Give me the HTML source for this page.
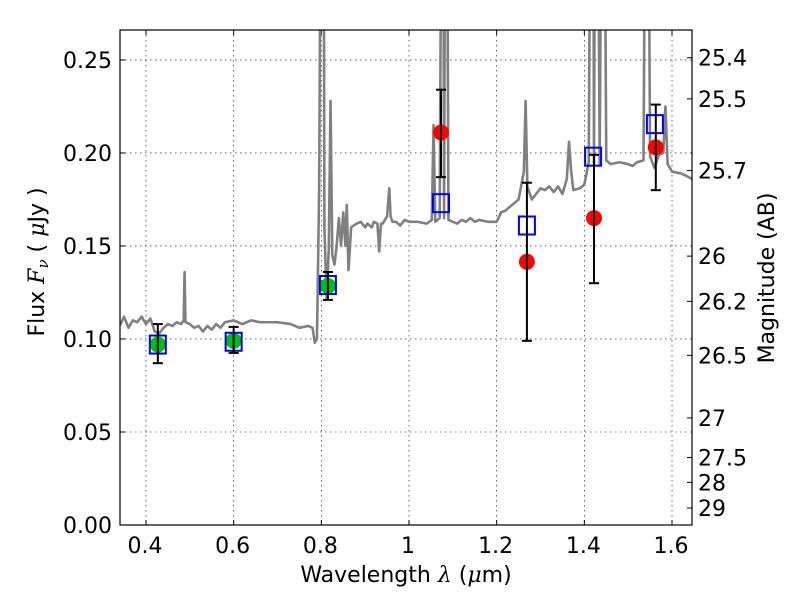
<!DOCTYPE html>
<html><head><meta charset="utf-8"><style>
body{margin:0;background:#fff}
svg text{font-family:"DejaVu Sans","Liberation Sans",sans-serif;fill:#000}
</style></head><body>
<svg id="chart" width="800" height="600" xmlns="http://www.w3.org/2000/svg"></svg>
<script>
const specWave=[0.341,0.35,0.36,0.37,0.38,0.39,0.40,0.41,0.42,0.43,0.44,0.45,0.46,0.47,0.48,0.486,0.488,0.490,0.50,0.51,0.52,0.53,0.54,0.55,0.56,0.57,0.58,0.60,0.62,0.64,0.66,0.70,0.73,0.75,0.77,0.78,0.785,0.79,0.795,0.80,0.805,0.807,0.812,0.817,0.821,0.825,0.83,0.835,0.840,0.845,0.850,0.855,0.858,0.862,0.868,0.88,0.89,0.90,0.905,0.91,0.915,0.92,0.928,0.932,0.936,0.94,0.95,0.955,0.958,0.962,0.97,0.98,0.99,1.0,1.02,1.04,1.052,1.056,1.06,1.07,1.075,1.078,1.08,1.083,1.086,1.09,1.10,1.11,1.12,1.13,1.14,1.15,1.16,1.18,1.2,1.21,1.22,1.23,1.24,1.25,1.262,1.266,1.27,1.28,1.29,1.30,1.31,1.32,1.33,1.34,1.35,1.36,1.365,1.37,1.375,1.39,1.40,1.41,1.415,1.42,1.422,1.425,1.43,1.435,1.44,1.445,1.45,1.46,1.48,1.50,1.51,1.52,1.535,1.54,1.545,1.55,1.56,1.57,1.58,1.585,1.59,1.60,1.62,1.63,1.646];
const specFlux=[0.1075,0.112,0.106,0.110,0.109,0.112,0.108,0.111,0.104,0.103,0.106,0.108,0.107,0.109,0.108,0.110,0.136,0.109,0.108,0.106,0.107,0.104,0.107,0.105,0.108,0.106,0.109,0.110,0.108,0.110,0.109,0.109,0.108,0.106,0.107,0.106,0.098,0.100,0.180,0.4,0.4,0.160,0.122,0.148,0.228,0.145,0.140,0.150,0.165,0.150,0.168,0.150,0.172,0.137,0.160,0.162,0.163,0.160,0.162,0.161,0.160,0.163,0.162,0.147,0.162,0.162,0.166,0.181,0.166,0.163,0.163,0.161,0.164,0.163,0.163,0.162,0.164,0.215,0.163,0.165,0.4,0.4,0.165,0.4,0.4,0.164,0.163,0.162,0.164,0.163,0.165,0.163,0.164,0.163,0.163,0.168,0.169,0.171,0.173,0.175,0.190,0.228,0.182,0.175,0.178,0.181,0.180,0.182,0.179,0.182,0.178,0.186,0.206,0.190,0.180,0.181,0.183,0.195,0.4,0.4,0.194,0.4,0.4,0.194,0.4,0.4,0.196,0.194,0.195,0.194,0.193,0.195,0.196,0.4,0.4,0.198,0.192,0.199,0.200,0.225,0.194,0.190,0.189,0.188,0.186];
const greenWave=[0.427,0.600,0.815], greenFlux=[0.097,0.099,0.1285], greenHi=[0.108,0.1065,0.136], greenLo=[0.087,0.0925,0.121];
const redWave=[1.073,1.269,1.422,1.563], redFlux=[0.211,0.1415,0.165,0.203], redHi=[0.234,0.184,0.199,0.226], redLo=[0.187,0.099,0.130,0.180];
const boxWave=[0.427,0.600,0.815,1.073,1.269,1.420,1.561], boxFlux=[0.097,0.0985,0.129,0.173,0.161,0.198,0.2155];
const xTicks=[0.4,0.6,0.8,1.0,1.2,1.4,1.6], xTickLabels=["0.4","0.6","0.8","1","1.2","1.4","1.6"];
const yTicks=[0,0.05,0.10,0.15,0.20,0.25], yTickLabels=["0.00","0.05","0.10","0.15","0.20","0.25"];
const magTicks=[25.4,25.5,25.7,26,26.2,26.5,27,27.5,28,29];

const L=120,R=692,T=30,B=525, X0=0.3407,X1=1.6456, Y0=0,Y1=0.2661;
const sx=v=>L+(v-X0)/(X1-X0)*(R-L), sy=v=>B-(v-Y0)/(Y1-Y0)*(B-T);
const NS="http://www.w3.org/2000/svg", svg=document.getElementById('chart');
function mk(tag,attrs,parent){const e=document.createElementNS(NS,tag);for(const k in attrs)e.setAttribute(k,attrs[k]);(parent||svg).appendChild(e);return e;}
const defs=mk('defs',{});const cp=mk('clipPath',{id:'clip'},defs);mk('rect',{x:L,y:T,width:R-L,height:B-T},cp);
xTicks.forEach((v,i)=>{const g=mk('line',{x1:sx(v),x2:sx(v),y1:T,y2:B,stroke:'#000','stroke-width':0.6,'stroke-dasharray':'1.5,3.5'});


mk('line',{x1:sx(v),x2:sx(v),y1:B,y2:B-5,stroke:'#000'});mk('line',{x1:sx(v),x2:sx(v),y1:T,y2:T+5,stroke:'#000'});
const t=mk('text',{x:sx(v)-1,y:B+28,'text-anchor':'middle','font-size':22});t.textContent=xTickLabels[i];

});
yTicks.forEach((v,i)=>{const g=mk('line',{x1:L,x2:R,y1:sy(v),y2:sy(v),stroke:'#000','stroke-width':0.6,'stroke-dasharray':'1.5,3.5'});


mk('line',{x1:L,x2:L+5,y1:sy(v),y2:sy(v),stroke:'#000'});
const t=mk('text',{x:L-8,y:sy(v)+8,'text-anchor':'end','font-size':22});t.textContent=yTickLabels[i];

});
magTicks.forEach(m=>{const f=Math.pow(10,(23.9-m)/2.5);const y=sy(f);
mk('line',{x1:R,x2:R-5,y1:y,y2:y,stroke:'#000'});
const t=mk('text',{x:R+6,y:y+8,'font-size':22});t.textContent=String(m);

});
const gp=mk('g',{'clip-path':'url(#clip)'});
const sp=mk('polyline',{points:specWave.map((w,i)=>sx(w)+','+sy(specFlux[i])).join(' '),fill:'none',stroke:'#808080','stroke-width':2.6,'stroke-linejoin':'round'},gp);


function err(w,lo,hi){const x=sx(w);mk('line',{x1:x,x2:x,y1:sy(lo),y2:sy(hi),stroke:'#000','stroke-width':2},gp);
[lo,hi].forEach(v=>mk('line',{x1:x-5,x2:x+5,y1:sy(v),y2:sy(v),stroke:'#000','stroke-width':2},gp));}
greenWave.forEach((w,i)=>{const c=mk('circle',{cx:sx(w),cy:sy(greenFlux[i]),r:8,fill:'#00bf00'},gp);

});
redWave.forEach((w,i)=>{const c=mk('circle',{cx:sx(w),cy:sy(redFlux[i]),r:8,fill:'#ff0000'},gp);

});
boxWave.forEach((w,i)=>{const r=mk('rect',{x:sx(w)-8,y:sy(boxFlux[i])-9,width:16,height:18,fill:'none',stroke:'#0000ff','stroke-width':2},gp);

});
greenWave.forEach((w,i)=>err(w,greenLo[i],greenHi[i]));
redWave.forEach((w,i)=>err(w,redLo[i],redHi[i]));
const fr=mk('rect',{x:L,y:T,width:R-L,height:B-T,fill:'none',stroke:'#000','stroke-width':1.2});


</script>
<svg style="position:absolute;left:0;top:0" width="800" height="600" xmlns="http://www.w3.org/2000/svg">
<text x="406" y="582" text-anchor="middle" font-size="22">Wavelength  <tspan font-style="italic" font-family="DejaVu Serif">λ</tspan> (<tspan font-style="italic" font-family="DejaVu Serif">μ</tspan>m)</text>
<text transform="translate(44,262) rotate(-90)" text-anchor="middle" font-size="22">Flux  <tspan font-style="italic" font-family="DejaVu Serif">F</tspan><tspan font-style="italic" font-family="DejaVu Serif" font-size="15" dy="4">ν</tspan><tspan dy="-4">  (  <tspan font-style="italic" font-family="DejaVu Serif">μ</tspan>Jy )</tspan></text>
<text transform="translate(774,278) rotate(-90)" text-anchor="middle" font-size="22">Magnitude (AB)</text>
</svg>
</body></html>
